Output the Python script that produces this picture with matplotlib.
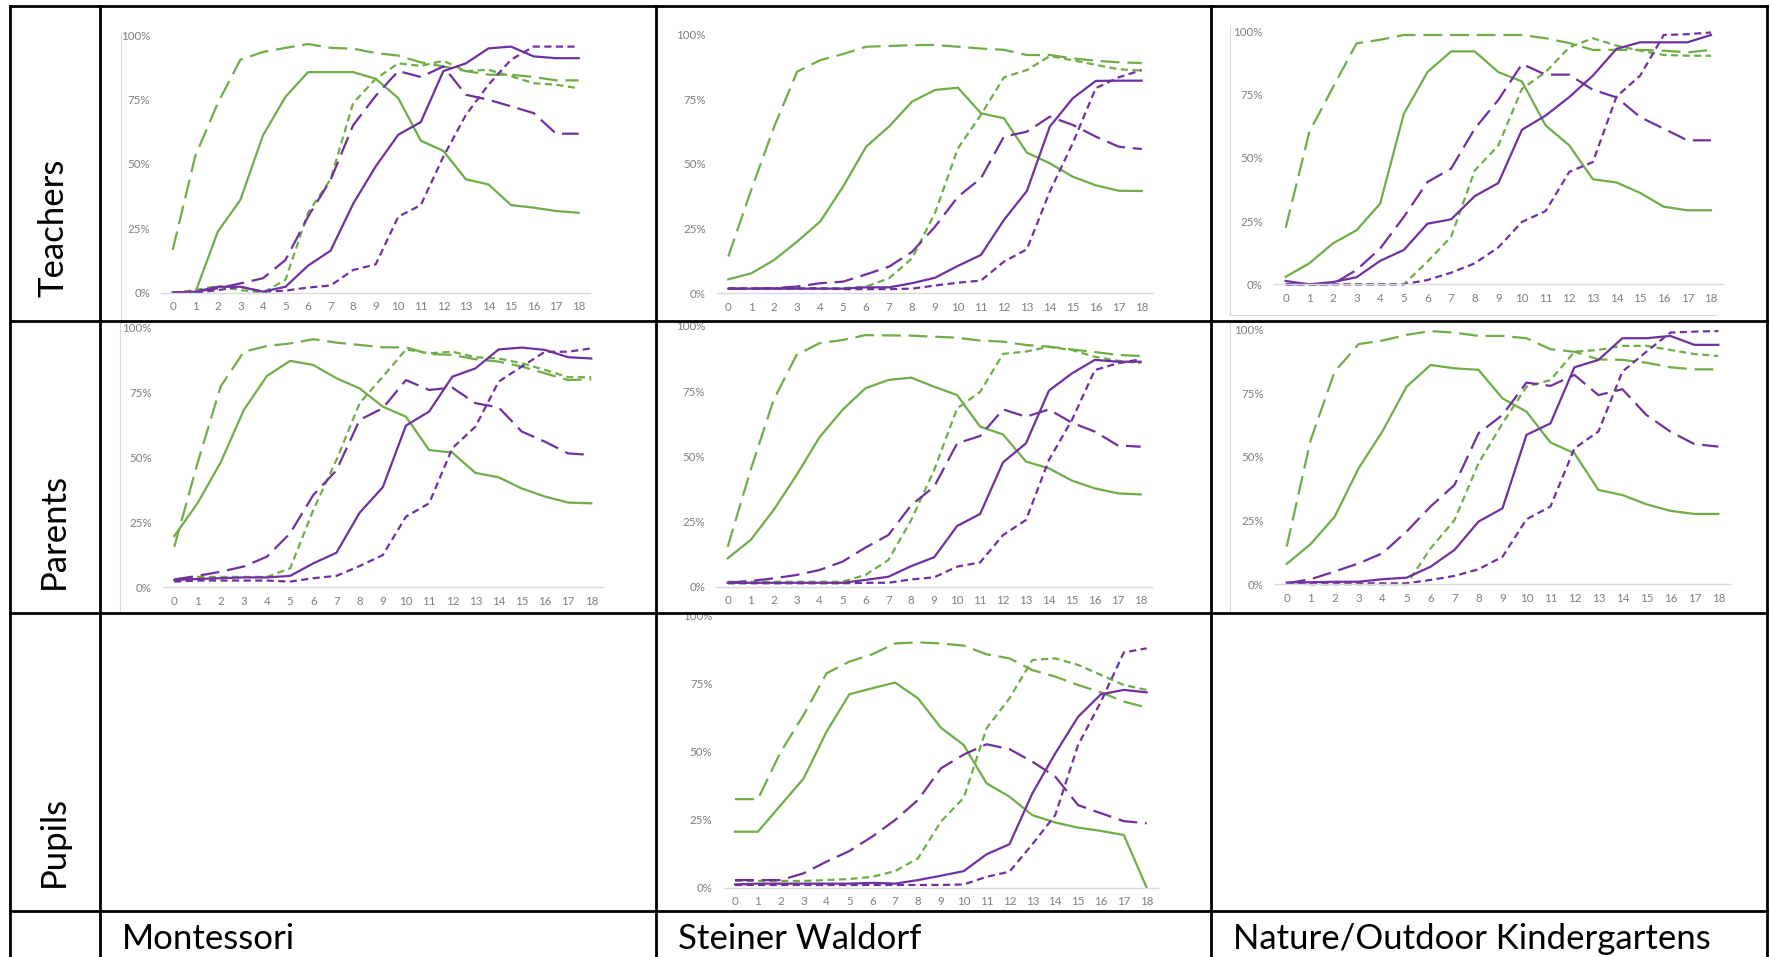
import numpy as np
import matplotlib
matplotlib.use("Agg")
import matplotlib.pyplot as plt

plt.rcParams['font.family'] = ['Lato', 'DejaVu Sans']

W, H = 1770, 957
ages = list(range(19))

GREEN = '#70ad47'
PURPLE = '#7030a0'

# values in percent, ages 0..18
# Teachers - Montessori
tm_g_solid = [0, 0, 23.7, 36, 61, 76, 85.6, 85.6, 85.6, 83, 75.5, 59, 55, 44, 42, 34, 33, 31.7, 31]
tm_g_long = [16.6, 53, 73.6, 90.4, 93.4, 95, 96.5, 95, 94.7, 93, 92, 89.4, 87.8, 86, 84.6, 84.6, 83.7, 82.4, 82.4]
tm_g_short = [0, 1, 2.6, 1, 0, 5, 31, 44, 73.6, 83, 89, 88, 90, 86, 86.5, 84, 81.3, 80.7, 79.3]
tm_p_solid = [0, 0.4, 2.3, 2.3, 0.4, 2.3, 10.5, 16.3, 34.5, 49, 61.3, 66.2, 86, 89, 94.8, 95.5, 91.7, 91, 91]
tm_p_long = [0, 0.4, 1.7, 3.6, 5.6, 12.7, 29.5, 43.8, 65, 76.4, 86, 83.7, 87.8, 76.8, 74.9, 72.3, 69.7, 61.7, 61.7]
tm_p_short = [0, 0, 1, 2.3, 0.4, 0.8, 2, 2.8, 8.8, 11, 29.5, 34, 52.8, 69, 80.7, 90.4, 95.5, 95.5, 95.5]

# Teachers - Steiner Waldorf
ts_g_solid = [5.4, 7.7, 12.9, 20, 27.7, 41.2, 56.6, 64.4, 74, 78.5, 79.4, 69.5, 67.6, 54.3, 50.2, 45, 41.7, 39.6, 39.5]
ts_g_long = [14.2, 40, 64.4, 85.6, 90, 92.4, 95.2, 95.5, 95.8, 95.9, 95.2, 94.5, 94, 92, 92, 90.7, 89.8, 89.2, 88.9]
ts_g_short = [2, 2, 2, 2, 2, 2, 2.6, 5.8, 13.5, 31, 56, 68.9, 83.4, 86.2, 91.6, 90, 88.2, 86.5, 86]
ts_p_solid = [1.8, 1.8, 1.8, 1.8, 1.8, 1.8, 2.3, 2.3, 3.9, 6, 10.6, 14.8, 28.3, 39.5, 64.4, 75.3, 82, 82.1, 82.1]
ts_p_long = [1.8, 1.8, 2, 2.6, 3.9, 4.5, 7.3, 10.3, 16, 25.7, 37.3, 44.4, 60.5, 62.4, 68.2, 65, 60.5, 56.6, 55.7]
ts_p_short = [1.8, 1.8, 1.8, 1.8, 1.8, 1.6, 1.6, 1.6, 1.8, 3, 4.1, 4.9, 12.2, 17, 39.3, 58, 79.2, 83.4, 86.2]

# Teachers - Nature/Outdoor
tn_g_solid = [3, 8.3, 16.2, 21.4, 32, 67.5, 84, 92.2, 92.2, 84, 80.3, 62.9, 55, 41.6, 40.3, 36.2, 30.7, 29.3, 29.3]
tn_g_long = [22.4, 60.3, 78, 95.4, 96.8, 98.7, 98.7, 98.7, 98.7, 98.7, 98.7, 97.4, 95.5, 92.8, 92.8, 92.8, 92.5, 91.8, 92.8]
tn_g_short = [0, 0, 0, 0, 0, 0, 9, 18.8, 45, 55, 77.4, 84, 93.8, 97.4, 94.5, 92.5, 90.8, 90.5, 90.5]
tn_p_solid = [1.3, 0, 0.9, 2.8, 9.3, 13.6, 24, 25.7, 34.9, 40.1, 61.2, 66.8, 74.1, 82.6, 93.2, 95.8, 95.8, 95.8, 98.7]
tn_p_long = [0, 0, 0.1, 5.7, 14.2, 26.7, 40.5, 45.8, 61.6, 73, 87.2, 83, 83, 77, 74, 66.2, 61.6, 57, 57]
tn_p_short = [0, 0, 0, 0, 0, 0, 1.7, 4.6, 8.3, 14.6, 24.7, 29, 44.5, 48.4, 74.3, 82.6, 98.7, 99, 99.7]

# Parents - Montessori
pm_g_solid = [19.7, 32.3, 48, 68.2, 81.3, 87.1, 85.5, 80.4, 76.5, 69.5, 65.6, 52.8, 51.8, 44, 42.3, 38, 34.9, 32.6, 32.3]
pm_g_long = [15.6, 47.7, 77.2, 90.6, 92.8, 93.8, 95.4, 94.1, 93.2, 92.3, 92.3, 89.7, 89.4, 87.7, 86.8, 84.9, 82.3, 79.7, 80]
pm_g_short = [3, 4, 4, 4, 4, 7.3, 29.7, 49, 70.8, 81, 91.5, 90, 90.6, 88.5, 88, 86.2, 83.6, 80.8, 80.8]
pm_p_solid = [2.8, 3.2, 3.5, 3.8, 3.8, 4.4, 9.2, 13.3, 28.7, 38.5, 62.2, 67.6, 81, 84.2, 91.5, 92.2, 91.3, 88.5, 88]
pm_p_long = [3, 4.4, 6, 8, 11.8, 20.8, 35.5, 45, 64.4, 68.9, 79.7, 75.9, 76.8, 70.8, 69.2, 59.9, 56, 51.5, 50.9]
pm_p_short = [2.2, 2.6, 2.6, 2.6, 2.6, 2.2, 3.5, 4.4, 8.2, 12.4, 27.2, 32.3, 53.5, 61.8, 79.1, 84.9, 90.6, 90.6, 91.9]

# Parents - Steiner Waldorf
ps_g_solid = [10.9, 17.9, 29.4, 42.8, 57.3, 67.8, 76.1, 79.3, 80.2, 76.7, 73.5, 61.4, 58.4, 48, 45.4, 40.7, 37.7, 35.8, 35.4]
ps_g_long = [15.3, 44.8, 71.6, 88.9, 93.4, 94.6, 96.5, 96.4, 96.3, 95.9, 95.5, 94.4, 94, 92.7, 92.1, 91, 90, 88.9, 88.5]
ps_g_short = [1.9, 1.9, 1.9, 1.9, 1.9, 1.9, 4.5, 10.2, 25.6, 44.8, 68.4, 74.7, 89.3, 90.2, 92, 90.8, 88.2, 86.7, 85.7]
ps_p_solid = [1.5, 1.5, 1.5, 1.5, 1.5, 1.5, 2.6, 3.8, 7.9, 11.3, 23.3, 27.9, 47.7, 55, 75.2, 81.8, 87, 86.3, 86.3]
ps_p_long = [1.5, 2.2, 3.2, 4.5, 6.4, 9.6, 15, 19.8, 31.3, 38.4, 55, 57.8, 68, 65.2, 68, 62.9, 59.5, 54.2, 53.7]
ps_p_short = [1.3, 1.3, 1.3, 1.3, 1.3, 1.3, 1.5, 1.5, 2.8, 3.6, 7.7, 9.3, 19.8, 25.6, 48.6, 63.9, 83.1, 85.7, 87.2]

# Parents - Nature/Outdoor
pn_g_solid = [8, 15.8, 26.5, 45.5, 60.1, 77.5, 86, 84.7, 84.1, 72.9, 67.7, 55.6, 51.4, 37, 35, 31.4, 28.8, 27.6, 27.6]
pn_g_long = [14.8, 56.6, 83.4, 94.2, 95.6, 97.8, 99.3, 98.7, 97.4, 97.4, 96.5, 92.2, 91.2, 88.2, 88, 86.9, 85.1, 84.3, 84.3]
pn_g_short = [0.4, 0, 0, 0, 0, 0, 14.1, 25.2, 47.5, 63.1, 77.5, 80.1, 91.2, 91.9, 93.5, 93.5, 91.9, 90.3, 89.5]
pn_p_solid = [0.7, 0.8, 1, 1, 2, 2.6, 6.9, 13.5, 24.6, 29.8, 58.6, 63.1, 85.1, 88, 96.5, 96.5, 97.4, 93.9, 93.9]
pn_p_long = [0.4, 2, 5, 8.2, 12.2, 20.7, 30.5, 39, 59.2, 66.4, 79.1, 77.8, 82.1, 74.2, 76.5, 66.4, 59.9, 55, 54]
pn_p_short = [0.4, 0.4, 0.4, 0.4, 0.4, 0.4, 1.7, 3.3, 5.9, 10.8, 25.5, 30.5, 53.3, 59.9, 83.4, 91.2, 98.7, 99.1, 99.3]

# Pupils - Steiner Waldorf
us_g_solid = [20.6, 20.6, 30.4, 40.2, 57.4, 71.2, 73.4, 75.5, 69.7, 58.9, 52.5, 38.4, 33.5, 26.7, 24, 22.1, 20.9, 19.4, 0]
us_g_long = [32.6, 32.6, 50, 63.6, 78.9, 83.2, 85.9, 89.9, 90.3, 89.9, 89.1, 85.9, 84.4, 80.1, 77.7, 74.6, 71.9, 68.5, 66.3]
us_g_short = [2.5, 2.5, 2.5, 2.5, 2.8, 3.2, 4, 6.1, 10.8, 24.3, 33.1, 58.7, 69.7, 83.8, 84.4, 82, 78.3, 74.6, 72.8]
us_p_solid = [1.2, 1.5, 1.5, 1.5, 1.5, 1.5, 1.8, 1.5, 2.8, 4.4, 6.1, 12.3, 16, 34.7, 49.4, 62.9, 71.2, 72.8, 71.9]
us_p_long = [2.8, 2.8, 2.8, 5.3, 9.6, 13.5, 18.8, 24.9, 32.3, 43.9, 49, 52.8, 51, 46.4, 40.9, 30.4, 27.4, 24.5, 23.7]
us_p_short = [1, 1, 1, 1, 1, 1, 1, 1, 1, 1, 1.2, 4, 5.9, 16, 26.7, 52.5, 68.5, 86.6, 88.1]

row_names = ['Teachers', 'Parents', 'Pupils']
col_names = ['Montessori', 'Steiner Waldorf', 'Nature/Outdoor Kindergartens']
y_ticks = [0, 0.25, 0.5, 0.75, 1.0]
y_ticklabels = ['0%', '25%', '50%', '75%', '100%']

charts = {
    (0, 0): [tm_g_solid, tm_g_long, tm_g_short, tm_p_solid, tm_p_long, tm_p_short],
    (0, 1): [ts_g_solid, ts_g_long, ts_g_short, ts_p_solid, ts_p_long, ts_p_short],
    (0, 2): [tn_g_solid, tn_g_long, tn_g_short, tn_p_solid, tn_p_long, tn_p_short],
    (1, 0): [pm_g_solid, pm_g_long, pm_g_short, pm_p_solid, pm_p_long, pm_p_short],
    (1, 1): [ps_g_solid, ps_g_long, ps_g_short, ps_p_solid, ps_p_long, ps_p_short],
    (1, 2): [pn_g_solid, pn_g_long, pn_g_short, pn_p_solid, pn_p_long, pn_p_short],
    (2, 1): [us_g_solid, us_g_long, us_g_short, us_p_solid, us_p_long, us_p_short],
}

# pixel placement of each pasted chart: x of age 0, x of age 18, y of 0%, y of 100%
placement = {
    (0, 0): (172.7, 578.7, 292.7, 35.0),
    (0, 1): (728.3, 1141.7, 293.3, 34.3),
    (0, 2): (1285.7, 1711.0, 284.3, 31.7),
    (1, 0): (174.3, 591.3, 587.3, 327.3),
    (1, 1): (727.7, 1140.7, 586.7, 326.0),
    (1, 2): (1286.7, 1718.3, 584.3, 329.3),
    (2, 1): (735.0, 1146.7, 887.7, 616.0),
}

styles = [
    dict(color=GREEN, ls='-'),
    dict(color=GREEN, dashes=(8.5, 3.5)),
    dict(color=GREEN, dashes=(3.2, 2.0)),
    dict(color=PURPLE, ls='-'),
    dict(color=PURPLE, dashes=(8.5, 3.5)),
    dict(color=PURPLE, dashes=(3.2, 2.0)),
]

fig = plt.figure(figsize=(W / 100, H / 100), dpi=100)
fig.patch.set_facecolor('white')

for key, series in charts.items():
    x0, x18, y0, y100 = placement[key]
    step = (x18 - x0) / 18
    left = x0 - 0.5 * step
    right = x18 + 0.5 * step
    ax = fig.add_axes([left / W, 1 - y0 / H, (right - left) / W, (y0 - y100) / H])
    ax.set_facecolor('none')
    for vals, st in zip(series, styles):
        ax.plot(ages, np.array(vals) / 100, lw=1.6, clip_on=False,
                solid_joinstyle='round', **st)
    ax.set_xlim(-0.5, 18.5)
    ax.set_ylim(0, 1)
    ax.set_xticks(ages)
    ax.set_yticks(y_ticks)
    ax.set_yticklabels(y_ticklabels)
    for s in ['top', 'right', 'left']:
        ax.spines[s].set_visible(False)
    ax.spines['bottom'].set_color('#d9d9d9')
    ax.spines['bottom'].set_linewidth(1.0)
    ax.tick_params(axis='both', length=0, labelsize=8.3, labelcolor='#7f7f7f')
    ax.tick_params(axis='x', pad=6)
    ax.tick_params(axis='y', pad=8)

# table overlay in pixel coordinates
tab = fig.add_axes([0, 0, 1, 1], zorder=10)
tab.set_xlim(0, W)
tab.set_ylim(H, 0)
tab.axis('off')
tab.patch.set_visible(False)

col_x = [10, 100, 656, 1211, 1767]
row_y = [6, 321, 613, 911, H + 5]

# faint chart image frames
frame = '#d9d9d9'
tab.plot([121, 121], [33, 320], color=frame, lw=0.8)
tab.plot([120, 120], [322, 612], color=frame, lw=0.8)
tab.plot([1230, 1230], [25, 315], color=frame, lw=0.8)
tab.plot([1230, 1716], [315, 315], color=frame, lw=0.8)
tab.plot([1230, 1230], [322, 612], color=frame, lw=0.8)

for x in col_x:
    tab.plot([x, x], [row_y[0], row_y[-1]], color='black', lw=2, solid_capstyle='projecting')
for y in row_y[:-1]:
    tab.plot([col_x[0], col_x[-1]], [y, y], color='black', lw=2, solid_capstyle='projecting')

for i, name in enumerate(row_names):
    tab.text(54, row_y[i + 1] - 24, name, rotation=90, ha='center', va='bottom',
             fontsize=25, color='black')

for j, name in enumerate(col_names):
    tab.text(col_x[j + 1] + 22, 949, name, ha='left', va='baseline',
             fontsize=25, color='black')

fig.savefig('out.png', dpi=100, facecolor='white')
